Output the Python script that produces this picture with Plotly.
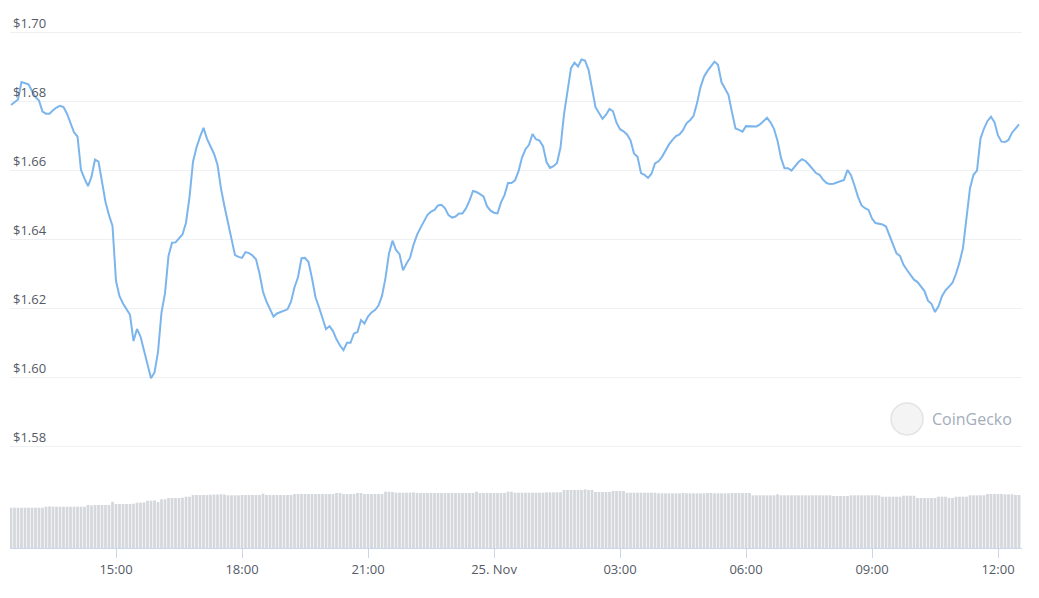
import pandas as pd
import plotly.graph_objects as go

# 5-minute samples, 24 Nov 12:30 -> 25 Nov 12:30
start_time = "2021-11-24 12:30"
n_points = 289

price = [
    1.6789, 1.6797, 1.6805, 1.6856, 1.6853, 1.6849, 1.6830, 1.6812, 1.6802, 1.6770, 1.6764, 1.6764,
    1.6774, 1.6782, 1.6787, 1.6783, 1.6764, 1.6736, 1.6710, 1.6698, 1.6601, 1.6576, 1.6554, 1.6581,
    1.6631, 1.6625, 1.6570, 1.6508, 1.6470, 1.6439, 1.6279, 1.6235, 1.6214, 1.6197, 1.6181, 1.6105,
    1.6140, 1.6118, 1.6080, 1.6039, 1.5997, 1.6014, 1.6073, 1.6188, 1.6243, 1.6352, 1.6390, 1.6391,
    1.6403, 1.6414, 1.6448, 1.6522, 1.6625, 1.6666, 1.6697, 1.6723, 1.6691, 1.6667, 1.6648, 1.6616,
    1.6547, 1.6495, 1.6446, 1.6395, 1.6354, 1.6349, 1.6346, 1.6363, 1.6360, 1.6353, 1.6342, 1.6301,
    1.6248, 1.6219, 1.6195, 1.6176, 1.6185, 1.6189, 1.6193, 1.6197, 1.6219, 1.6261, 1.6290, 1.6345,
    1.6346, 1.6334, 1.6287, 1.6232, 1.6203, 1.6171, 1.6140, 1.6148, 1.6134, 1.6110, 1.6092, 1.6079,
    1.6100, 1.6100, 1.6127, 1.6131, 1.6166, 1.6156, 1.6176, 1.6188, 1.6195, 1.6208, 1.6236, 1.6288,
    1.6359, 1.6396, 1.6369, 1.6357, 1.6310, 1.6330, 1.6346, 1.6384, 1.6413, 1.6433, 1.6450, 1.6471,
    1.6480, 1.6485, 1.6498, 1.6500, 1.6490, 1.6470, 1.6463, 1.6466, 1.6475, 1.6475, 1.6490, 1.6512,
    1.6540, 1.6537, 1.6531, 1.6524, 1.6496, 1.6483, 1.6477, 1.6475, 1.6507, 1.6528, 1.6563, 1.6563,
    1.6571, 1.6597, 1.6637, 1.6661, 1.6674, 1.6705, 1.6690, 1.6686, 1.6670, 1.6624, 1.6607, 1.6612,
    1.6621, 1.6666, 1.6762, 1.6831, 1.6896, 1.6912, 1.6901, 1.6921, 1.6918, 1.6892, 1.6839, 1.6783,
    1.6766, 1.6749, 1.6761, 1.6778, 1.6771, 1.6738, 1.6719, 1.6713, 1.6704, 1.6687, 1.6649, 1.6639,
    1.6592, 1.6587, 1.6578, 1.6590, 1.6620, 1.6626, 1.6639, 1.6657, 1.6675, 1.6688, 1.6699, 1.6704,
    1.6716, 1.6736, 1.6745, 1.6757, 1.6794, 1.6841, 1.6871, 1.6888, 1.6901, 1.6915, 1.6906, 1.6855,
    1.6837, 1.6818, 1.6768, 1.6721, 1.6717, 1.6712, 1.6728, 1.6728, 1.6726, 1.6727, 1.6733, 1.6742,
    1.6752, 1.6739, 1.6720, 1.6686, 1.6636, 1.6606, 1.6606, 1.6599, 1.6613, 1.6624, 1.6632, 1.6627,
    1.6616, 1.6603, 1.6592, 1.6587, 1.6573, 1.6563, 1.6560, 1.6561, 1.6564, 1.6569, 1.6572, 1.6601,
    1.6586, 1.6556, 1.6523, 1.6498, 1.6490, 1.6485, 1.6460, 1.6447, 1.6445, 1.6443, 1.6437, 1.6411,
    1.6381, 1.6359, 1.6352, 1.6326, 1.6311, 1.6297, 1.6283, 1.6276, 1.6264, 1.6250, 1.6222, 1.6213,
    1.6189, 1.6206, 1.6235, 1.6252, 1.6263, 1.6274, 1.6300, 1.6333, 1.6375, 1.6460, 1.6548, 1.6587,
    1.6599, 1.6692, 1.6721, 1.6743, 1.6755, 1.6739, 1.6701, 1.6683, 1.6682, 1.6688, 1.6709, 1.6721, 1.6733,
]

# 24h volume (millions USD)
volume = [
    40.3, 40.3, 40.3, 40.3, 40.3, 40.3, 40.3, 40.3, 40.3, 40.3, 41.3, 41.6,
    41.3, 41.3, 41.3, 41.3, 41.3, 41.3, 41.3, 41.3, 41.3, 41.3, 43.0, 42.6,
    43.0, 43.0, 43.0, 43.0, 43.0, 46.3, 44.0, 44.0, 44.0, 44.0, 44.0, 44.3,
    45.3, 45.3, 45.6, 47.3, 47.3, 47.6, 46.0, 48.7, 48.7, 50.0, 50.0, 50.0,
    50.0, 50.3, 51.3, 51.3, 53.0, 53.0, 53.0, 53.0, 53.0, 53.3, 53.5, 53.5,
    53.8, 53.5, 52.7, 52.7, 52.7, 52.7, 53.0, 53.0, 53.0, 53.0, 53.0, 53.0,
    54.3, 53.0, 53.0, 53.0, 53.0, 53.0, 53.0, 53.0, 53.0, 54.0, 54.0, 54.0,
    54.0, 54.0, 54.0, 54.0, 54.0, 54.0, 54.0, 54.0, 54.0, 55.0, 55.0, 54.0,
    54.0, 54.0, 54.0, 55.0, 55.0, 54.0, 54.0, 54.0, 54.0, 54.0, 54.0, 56.3,
    56.3, 56.0, 55.3, 55.3, 55.3, 55.3, 55.3, 55.6, 55.0, 55.0, 55.0, 55.0,
    55.0, 55.0, 55.0, 55.0, 55.0, 55.0, 55.0, 55.0, 55.0, 55.0, 55.0, 55.0,
    55.0, 56.3, 55.0, 55.0, 55.0, 55.0, 55.0, 55.0, 55.0, 55.0, 56.3, 56.3,
    55.3, 55.3, 55.3, 55.3, 55.3, 55.3, 55.3, 55.3, 55.3, 55.7, 55.7, 55.7,
    55.7, 55.7, 58.0, 58.0, 58.0, 58.0, 58.0, 58.0, 58.7, 58.0, 58.0, 56.0,
    56.0, 56.0, 56.0, 56.0, 57.0, 57.0, 57.0, 57.0, 55.3, 55.3, 55.3, 55.3,
    55.3, 55.3, 55.3, 55.3, 55.3, 54.7, 54.7, 54.7, 54.7, 54.7, 54.7, 54.7,
    55.0, 54.7, 54.7, 54.7, 54.7, 54.7, 54.7, 55.0, 55.0, 54.7, 54.7, 54.7,
    54.7, 54.7, 55.0, 55.0, 55.0, 55.0, 55.0, 55.0, 52.7, 52.7, 52.7, 52.7,
    52.7, 52.7, 52.7, 53.7, 52.7, 52.7, 52.7, 52.7, 52.7, 52.7, 52.7, 52.7,
    52.7, 52.7, 52.7, 52.7, 52.7, 52.7, 52.7, 52.0, 52.0, 52.0, 52.0, 52.0,
    52.7, 52.7, 52.7, 52.7, 52.7, 52.7, 52.7, 52.7, 52.7, 51.3, 51.3, 51.3,
    51.3, 51.3, 51.3, 52.3, 52.3, 52.3, 52.3, 50.0, 50.0, 50.0, 50.0, 50.0,
    50.0, 51.3, 51.3, 51.3, 50.0, 50.0, 51.3, 51.3, 51.3, 51.3, 52.7, 52.7,
    52.7, 52.7, 52.7, 54.0, 54.0, 54.0, 54.0, 54.0, 53.7, 53.7, 53.7, 53.0,
    53.0, 53.0,
]

price_ticks = [1.58, 1.60, 1.62, 1.64, 1.66, 1.68, 1.70]
price_tick_labels = ["$1.58", "$1.60", "$1.62", "$1.64", "$1.66", "$1.68", "$1.70"]
time_ticks = ["2021-11-24 15:00", "2021-11-24 18:00", "2021-11-24 21:00", "2021-11-25 00:00",
              "2021-11-25 03:00", "2021-11-25 06:00", "2021-11-25 09:00", "2021-11-25 12:00"]
time_tick_labels = ["15:00", "18:00", "21:00", "25. Nov", "03:00", "06:00", "09:00", "12:00"]

times = pd.date_range(start_time, periods=n_points, freq="5min")

FONT = "Open Sans, Noto Sans, sans-serif"
LABEL_COLOR = "#555a66"

fig = go.Figure()

fig.add_trace(go.Bar(
    x=times, y=volume, yaxis="y2",
    marker=dict(color="#d4d7dc", line=dict(width=0)),
    hoverinfo="skip", showlegend=False,
))

fig.add_trace(go.Scatter(
    x=times, y=price, yaxis="y", mode="lines",
    line=dict(color="#7cb5ec", width=2),
    showlegend=False,
))

fig.update_layout(
    width=1023, height=582,
    margin=dict(l=2, r=9, t=0, b=42, pad=0),
    paper_bgcolor="white", plot_bgcolor="white",
    bargap=0.22,
    font=dict(family=FONT, size=13, color=LABEL_COLOR),
    xaxis=dict(
        range=["2021-11-24 12:28:34", "2021-11-25 12:34:17"],
        tickvals=time_ticks, ticktext=time_tick_labels,
        showgrid=False, zeroline=False,
        showline=True, linecolor="#ccd6eb", linewidth=1,
        ticks="outside", ticklen=9, tickcolor="#ccd6eb", tickwidth=1,
        tickfont=dict(family=FONT, size=13, color=LABEL_COLOR),
    ),
    yaxis=dict(
        range=[1.55052, 1.70704],
        tickvals=price_ticks, ticktext=price_tick_labels,
        showgrid=True, gridcolor="#eef0f3", gridwidth=1,
        zeroline=False, showline=False,
        ticklabelposition="inside top",
        tickfont=dict(family=FONT, size=13, color=LABEL_COLOR),
    ),
    yaxis2=dict(
        range=[0, 540], overlaying="y", side="right",
        showgrid=False, zeroline=False, showline=False, showticklabels=False,
    ),
)

# CoinGecko watermark
fig.add_shape(type="circle", xref="paper", yref="paper",
              x0=0.8706, x1=0.9022, y0=0.2093, y1=0.2685,
              fillcolor="#f4f4f4", line=dict(color="#e3e3e3", width=1.5), layer="above")
fig.add_annotation(xref="paper", yref="paper", x=0.909, y=0.2389,
                   xanchor="left", yanchor="middle", showarrow=False,
                   text="CoinGecko", font=dict(family=FONT, size=16, color="#a4acbb"))

fig.write_html("out.html", config={"displayModeBar": False})
